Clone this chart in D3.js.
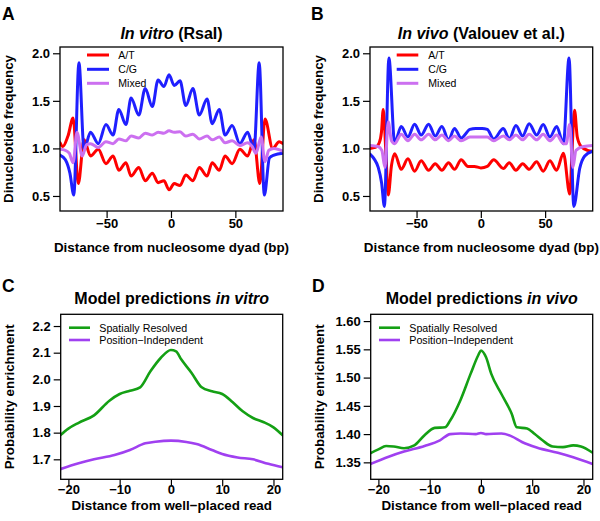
<!DOCTYPE html>
<html><head><meta charset="utf-8">
<script src="https://cdn.jsdelivr.net/npm/d3@7"></script>
<style>
body{margin:0;background:#fff}
svg{display:block}
text{font-family:"Liberation Sans",Arial,Helvetica,sans-serif}
</style>
</head><body>
<svg id="chart" width="600" height="521"></svg>
<script>
// ---------------- DATA ----------------
// Panel A: in vitro (RsaI) dinucleotide frequency vs distance from dyad (bp)
const vitroAT = [[-86.2,1.06],[-84,1.02],[-80,1.13],[-76,1.32],[-72,0.63],[-67.5,1.09],[-62.5,0.92],[-56.5,0.99],[-50.5,0.84],[-45,0.92],[-40.5,0.77],[-35,0.85],[-31,0.71],[-25,0.80],[-20,0.66],[-14.5,0.74],[-10,0.64],[-5.5,0.66],[-1.5,0.565],[2.5,0.63],[7,0.61],[11.5,0.72],[17,0.66],[22,0.80],[28,0.71],[32,0.85],[37.5,0.77],[42,0.92],[47.5,0.84],[53.5,0.99],[59.5,0.92],[64.5,1.09],[69,0.63],[73,1.31],[79,1.0],[84,1.07],[87,1.05]];
const vitroCG = [[-86.2,0.93],[-82,0.88],[-78.5,0.74],[-75.5,0.51],[-71.5,1.90],[-67.5,0.99],[-62.5,1.17],[-56.5,1.05],[-50.5,1.25],[-45,1.14],[-40.5,1.41],[-35,1.25],[-31,1.53],[-25,1.35],[-20,1.63],[-14.5,1.44],[-10,1.72],[-5.5,1.65],[-1.5,1.775],[2.5,1.66],[7,1.71],[11.5,1.45],[17,1.63],[22,1.35],[28,1.52],[32,1.26],[37.5,1.41],[42,1.14],[47.5,1.24],[53.5,1.05],[59.5,1.17],[64.5,0.99],[68.5,1.90],[72.5,0.51],[76.5,0.90],[80,0.93],[87,0.95]];
const vitroMixed = [[-86.2,0.99],[-82,0.98],[-79,0.95],[-76,0.85],[-73,1.17],[-69,0.92],[-65.5,1.04],[-62.5,1.05],[-56.5,1.01],[-50.5,1.07],[-45,1.05],[-40.5,1.10],[-35,1.08],[-31,1.13],[-25,1.11],[-20,1.16],[-14.5,1.14],[-10,1.17],[-5.5,1.16],[-1.5,1.185],[2.5,1.17],[7,1.175],[11.5,1.13],[17,1.15],[22,1.10],[28,1.13],[32,1.09],[37.5,1.12],[42,1.06],[47.5,1.08],[53.5,1.03],[59.5,1.06],[63,1.02],[66,0.95],[70,1.12],[73,0.86],[76,0.98],[80,1.0],[87,0.97]];

// Panel B: in vivo (Valouev et al.)
const vivoAT = [[-86.2,1.0],[-82,1.01],[-79,1.06],[-77.3,1.17],[-75.9,1.41],[-74,1.0],[-72,0.51],[-69.5,0.82],[-67,0.945],[-61.9,0.78],[-56.7,0.89],[-51.5,0.76],[-46.4,0.87],[-40.6,0.77],[-35.5,0.84],[-30.3,0.77],[-25.1,0.85],[-20.5,0.78],[-15.3,0.88],[-10,0.81],[-5,0.81],[0,0.795],[5,0.81],[10,0.88],[17.5,0.79],[22.1,0.85],[27.3,0.77],[32.5,0.84],[37.6,0.78],[43.4,0.86],[48.5,0.76],[53.7,0.87],[59,0.77],[64.2,0.95],[69.2,0.52],[71,1.0],[72.9,1.40],[75,1.12],[78,1.02],[83,0.98],[87,0.97]];
const vivoCG = [[-86.2,0.94],[-83,0.89],[-79.8,0.80],[-77.2,0.64],[-75,0.39],[-71.5,1.95],[-67,1.06],[-61.9,1.23],[-56.7,1.12],[-51.5,1.255],[-46.4,1.14],[-40.6,1.255],[-35.5,1.13],[-30.3,1.23],[-25.1,1.09],[-20.5,1.21],[-15.3,1.11],[-8.5,1.20],[-4,1.21],[1,1.21],[5,1.20],[10,1.10],[17.5,1.21],[22.1,1.10],[27.3,1.24],[32.5,1.13],[37.6,1.26],[43.4,1.14],[48.5,1.25],[53.7,1.12],[59,1.23],[64.2,1.05],[68.6,1.95],[72.3,0.39],[76.9,0.79],[80.8,0.92],[87,0.97]];
const vivoMixed = [[-86.2,1.03],[-80,1.02],[-77,0.98],[-74.6,0.80],[-72,1.28],[-69.5,1.08],[-67,1.05],[-61.9,1.15],[-56.7,1.08],[-51.5,1.15],[-46.4,1.09],[-40.6,1.15],[-35.5,1.09],[-30.3,1.14],[-25.1,1.08],[-20.5,1.13],[-15.3,1.08],[-8.5,1.12],[0,1.12],[5,1.12],[10,1.08],[17.5,1.13],[22.1,1.09],[27.3,1.14],[32.5,1.09],[37.6,1.15],[43.4,1.09],[48.5,1.15],[53.7,1.08],[59,1.14],[64.2,1.05],[66.5,1.05],[69,1.25],[71.6,0.80],[74,0.98],[80,1.02],[87,1.03]];

// Panel C: model predictions in vitro
const predVitroSpatial = [[-21.6,1.79],[-20,1.815],[-18,1.837],[-15,1.865],[-12,1.92],[-10,1.945],[-8,1.957],[-6,1.97],[-4,2.03],[-2,2.08],[0,2.11],[1,2.105],[2,2.075],[4,2.025],[6,1.97],[8,1.955],[10,1.945],[12,1.915],[14,1.88],[16,1.855],[18,1.84],[20,1.82],[21.8,1.79]];
const predVitroIndep = [[-21.6,1.663],[-18,1.685],[-15,1.70],[-11,1.716],[-8,1.735],[-5,1.76],[-3,1.766],[0,1.77],[3,1.765],[5,1.757],[8,1.735],[10,1.72],[13,1.707],[16,1.70],[19,1.683],[21.8,1.67]];

// Panel D: model predictions in vivo
const predVivoSpatial = [[-21.6,1.366],[-20,1.373],[-18.5,1.379],[-17,1.378],[-15,1.375],[-13,1.38],[-11,1.398],[-9,1.411],[-7,1.412],[-6,1.424],[-4,1.46],[-2,1.507],[-0.5,1.54],[0,1.548],[1,1.536],[2,1.507],[4,1.471],[6,1.436],[7,1.412],[9,1.41],[10.5,1.40],[12,1.389],[14,1.378],[16,1.377],[18,1.38],[19.5,1.378],[21.8,1.367]];
const predVivoIndep = [[-21.6,1.347],[-18,1.36],[-15,1.369],[-11,1.379],[-8,1.389],[-6,1.40],[-4,1.401],[-1,1.40],[0,1.402],[1,1.40],[4,1.401],[6,1.396],[8,1.386],[11,1.376],[15,1.367],[18,1.359],[21.8,1.347]];

// Tick labels / legend labels
const topXTicks = [-50, 0, 50];
const topYTicks = [0.5, 1.0, 1.5, 2.0];
const bottomXTicks = [-20, -10, 0, 10, 20];
const cYTicks = [1.7, 1.8, 1.9, 2.0, 2.1, 2.2];
const dYTicks = [1.35, 1.40, 1.45, 1.50, 1.55, 1.60];
const dinucLabels = ["A/T", "C/G", "Mixed"];
const modelLabels = ["Spatially Resolved", "Position\u2212Independent"];

// ---------------- DRAWING ----------------
const svg = d3.select("#chart");
svg.append("rect").attr("width", 600).attr("height", 521).attr("fill", "#fff");

const COL = {red: "#ff0000", blue: "#1f1fff", mixed: "#cc70f0", green: "#14a014", purple: "#a040f0"};

function panel(o) {
  const g = svg.append("g");
  const x = d3.scaleLinear().domain(o.xDomain).range([o.left, o.right]);
  const y = d3.scaleLinear().domain(o.yDomain).range([o.bottom, o.top]);
  const cid = "clip" + o.letter;
  svg.append("clipPath").attr("id", cid).append("rect")
    .attr("x", o.left).attr("y", o.top).attr("width", o.right - o.left).attr("height", o.bottom - o.top);

  const line = d3.line().x(d => x(d[0])).y(d => y(d[1])).curve(d3.curveMonotoneX);
  const lg = g.append("g").attr("clip-path", `url(#${cid})`);
  o.series.forEach(s => {
    lg.append("path").datum(s.data).attr("d", line)
      .attr("fill", "none").attr("stroke", s.color).attr("stroke-width", o.lw)
      .attr("stroke-linejoin", "round").attr("stroke-linecap", "round");
  });

  // axes
  const ax = g.append("g").attr("transform", `translate(0,${o.bottom})`)
    .call(d3.axisBottom(x).tickValues(o.xTicks).tickSize(7).tickPadding(o.xPad).tickFormat(d3.format("d")));
  const ay = g.append("g").attr("transform", `translate(${o.left},0)`)
    .call(d3.axisLeft(y).tickValues(o.yTicks).tickSize(7).tickPadding(3).tickFormat(d3.format(o.yFmt)));
  [ax, ay].forEach(a => {
    a.select(".domain").remove();
    a.selectAll("line").attr("stroke", "#000").attr("stroke-width", 1.2);
    a.selectAll("text").attr("font-size", 13).attr("font-weight", "bold").attr("fill", "#000")
      .style("font-family", '"Liberation Sans",Arial,sans-serif');
  });

  // box
  g.append("rect").attr("x", o.left).attr("y", o.top)
    .attr("width", o.right - o.left).attr("height", o.bottom - o.top)
    .attr("fill", "none").attr("stroke", "#000").attr("stroke-width", 1.3);

  // legend
  o.series.forEach((s, i) => {
    const ly = o.legY[i];
    g.append("line").attr("x1", o.legX[0]).attr("x2", o.legX[1]).attr("y1", ly).attr("y2", ly)
      .attr("stroke", s.color).attr("stroke-width", o.lw);
    g.append("text").attr("x", o.legX[2]).attr("y", ly).attr("dy", "0.36em")
      .attr("font-size", o.legFont).text(s.label);
  });

  // title
  const t = g.append("text").attr("x", (o.left + o.right) / 2).attr("y", o.titleY)
    .attr("text-anchor", "middle").attr("font-size", 16).attr("font-weight", "bold");
  o.title.forEach(p => t.append("tspan").attr("font-style", p[1] ? "italic" : "normal").text(p[0]));

  // panel letter
  g.append("text").attr("x", o.letterX).attr("y", o.letterY).attr("font-size", 17.5)
    .attr("font-weight", "bold").text(o.letter);

  // axis titles
  g.append("text").attr("x", (o.left + o.right) / 2).attr("y", o.xLabY).attr("text-anchor", "middle")
    .attr("font-size", 13.4).attr("font-weight", "bold").text(o.xLab);
  g.append("text").attr("transform", `translate(${o.left - 51.5},${(o.top + o.bottom) / 2}) rotate(-90)`)
    .attr("dy", "0.36em").attr("text-anchor", "middle")
    .attr("font-size", 13.4).attr("font-weight", "bold").text(o.yLab);
}

const topCommon = {
  top: 47, bottom: 211, xDomain: [-86.2, 87], yDomain: [0.342, 2.066],
  xTicks: topXTicks, yTicks: topYTicks, yFmt: ".1f", xPad: 1, lw: 3,
  legFont: 10.5, titleY: 38.5, letterY: 20, xLabY: 252,
  xLab: "Distance from nucleosome dyad (bp)", yLab: "Dinucleotide frequency"
};
panel(Object.assign({}, topCommon, {
  letter: "A", left: 60, right: 283, letterX: 2,
  legX: [87, 109, 118.3], legY: [55, 69.3, 83.3],
  title: [["In vitro", true], [" (RsaI)", false]],
  series: [
    {label: dinucLabels[0], color: COL.red, data: vitroAT},
    {label: dinucLabels[1], color: COL.blue, data: vitroCG},
    {label: dinucLabels[2], color: COL.mixed, data: vitroMixed}
  ]
}));
panel(Object.assign({}, topCommon, {
  letter: "B", left: 370, right: 592.7, letterX: 311,
  legX: [396.7, 418.3, 428.3], legY: [55, 69.3, 83.3],
  title: [["In vivo", true], [" (Valouev et al.)", false]],
  series: [
    {label: dinucLabels[0], color: COL.red, data: vivoAT},
    {label: dinucLabels[1], color: COL.blue, data: vivoCG},
    {label: dinucLabels[2], color: COL.mixed, data: vivoMixed}
  ]
}));

const botCommon = {
  top: 314.3, bottom: 479.3, xDomain: [-21.5, 21.8],
  xTicks: bottomXTicks, xPad: -1.5, lw: 2.6,
  legFont: 10.7, titleY: 304, letterY: 291.5, xLabY: 509.5,
  xLab: "Distance from well\u2212placed read", yLab: "Probability enrichment"
};
panel(Object.assign({}, botCommon, {
  letter: "C", left: 60.7, right: 282.7, letterX: 2,
  yDomain: [1.625, 2.244], yTicks: cYTicks, yFmt: ".1f",
  legX: [69, 90, 99.3], legY: [327.7, 340],
  title: [["Model predictions ", false], ["in vitro", true]],
  series: [
    {label: modelLabels[0], color: COL.green, data: predVitroSpatial},
    {label: modelLabels[1], color: COL.purple, data: predVitroIndep}
  ]
}));
panel(Object.assign({}, botCommon, {
  letter: "D", left: 370.7, right: 592.7, letterX: 312,
  yDomain: [1.32, 1.612], yTicks: dYTicks, yFmt: ".2f",
  legX: [379, 400, 409.3], legY: [327.7, 340],
  title: [["Model predictions ", false], ["in vivo", true]],
  series: [
    {label: modelLabels[0], color: COL.green, data: predVivoSpatial},
    {label: modelLabels[1], color: COL.purple, data: predVivoIndep}
  ]
}));
</script>
</body></html>
